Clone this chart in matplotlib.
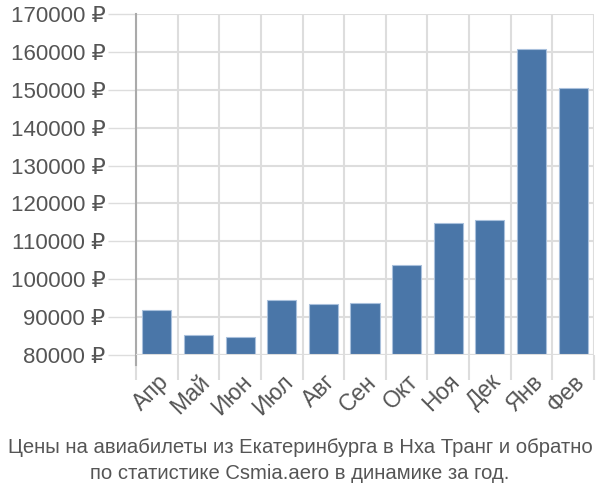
import matplotlib
matplotlib.use("Agg")
from matplotlib import pyplot as plt
import numpy as np

months = ["Апр", "Май", "Июн", "Июл", "Авг", "Сен", "Окт", "Ноя", "Дек", "Янв", "Фев"]
prices = [91800, 85300, 84750, 94500, 93450, 93800, 103750, 114750, 115700, 160660, 150450]
y_ticks = [80000, 90000, 100000, 110000, 120000, 130000, 140000, 150000, 160000, 170000]
title = ("Цены на авиабилеты из Екатеринбурга в Нха Транг и обратно\n"
         "по статистике Csmia.aero в динамике за год.")

base = 80000
bar_color = "#4a76a8"
text_color = "#555555"
grid_color = "#dddddd"

plt.rcParams['font.family'] = ['Liberation Sans', 'DejaVu Sans']

fig = plt.figure(figsize=(6, 5), dpi=100)
ax = fig.add_axes([0.2267, 0.29, 0.7633, 0.682])

x = np.arange(len(months))
heights = [p - base for p in prices]
ax.bar(x, heights, bottom=base, width=0.7, color=bar_color,
       edgecolor="#a9c0dc", linewidth=0.8, zorder=3)

ax.set_xlim(-0.5, len(months) - 0.5)
ax.set_ylim(base, 170000)

# y axis
ax.set_yticks(y_ticks)
ax.set_yticklabels([f"{v} ₽" for v in y_ticks])
ax.tick_params(axis="y", length=20, width=1, color=grid_color,
               labelsize=16, labelcolor=text_color, pad=2)

# x axis: labels at centers, tick marks / grid at boundaries
ax.set_xticks(x)
ax.set_xticklabels(months, rotation=45, ha="right", va="top",
                   rotation_mode="anchor")
ax.tick_params(axis="x", which="major", length=0, labelsize=16.5,
               labelcolor=text_color, pad=11)
ax.set_xticks(np.arange(len(months) + 1) - 0.5, minor=True)
ax.tick_params(axis="x", which="minor", length=18, width=1.5, color=grid_color)

ax.grid(True, axis="y", color=grid_color, linewidth=1.5, zorder=0)
ax.grid(True, axis="x", which="minor", color=grid_color, linewidth=1.5, zorder=0)

for side in ["top", "right", "bottom"]:
    ax.spines[side].set_visible(False)
ax.spines["left"].set_color("#aaaaaa")
ax.spines["left"].set_linewidth(1.5)
ax.spines["left"].set_bounds(77400, 170000)
ax.axhline(base, color=grid_color, linewidth=1.5, zorder=4)

fig.text(0.5, 0.079, title, ha="center", va="center", fontsize=14.6,
         color=text_color, linespacing=1.5,
         family=['Liberation Sans Narrow', 'Liberation Sans', 'DejaVu Sans'])

fig.savefig("out.png", dpi=100)
